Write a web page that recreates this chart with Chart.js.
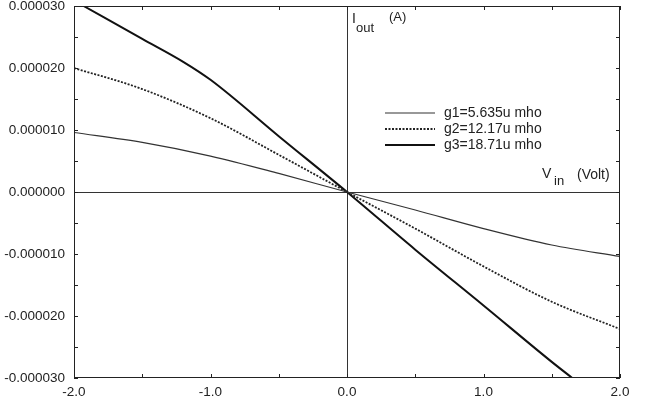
<!DOCTYPE html>
<html lang="en">
<head>
    <meta charset="UTF-8">
    <title>Iout vs Vin</title>
    <style>
        body {
            margin: 0;
            padding: 0;
            background: #fff;
        }
        #wrap {
            width: 645px;
            height: 404px;
        }
    </style>
    <script src="https://cdn.jsdelivr.net/npm/chart.js"></script>
</head>
<body>
    <div id="wrap"><canvas id="ivChart" width="645" height="404"></canvas></div>
    <script>
        // Vin (Volt) sample points
        const vin = [-2.0, -1.5, -1.0, -0.5, 0.0, 0.5, 1.0, 1.5, 2.0];
        // Iout (A) per transconductance
        const g1Vals = [9.6e-6, 8.0e-6, 5.8e-6, 3.0e-6, 0, -2.9e-6, -5.9e-6, -8.55e-6, -10.4e-6];
        const g2Vals = [20.0e-6, 16.6e-6, 11.9e-6, 6.0e-6, 0, -5.9e-6, -12.0e-6, -17.7e-6, -22.1e-6];
        // g3 leaves the plot at the top and bottom
        const vinG3 = [-1.93, -1.5, -1.2, -1.0, -0.5, 0.0, 0.5, 1.0, 1.5, 1.65];
        const g3Vals = [30.0e-6, 24.7e-6, 21.0e-6, 18.1e-6, 9.0e-6, 0, -9.3e-6, -18.3e-6, -27.4e-6, -30.0e-6];
        const seriesLabels = ['g1=5.635u mho', 'g2=12.17u mho', 'g3=18.71u mho'];

        const FONT = '"Liberation Sans", Arial, sans-serif';

        function pts(xs, ys) {
            return xs.map((x, i) => ({ x: x, y: ys[i] }));
        }

        // frame, inward ticks, legend and axis titles
        const decor = {
            id: 'decor',
            afterDraw(chart) {
                const ctx = chart.ctx;
                const a = chart.chartArea;
                const xs = chart.scales.x;
                const ys = chart.scales.y;
                const t = 4;
                ctx.save();
                ctx.strokeStyle = '#222';
                ctx.lineWidth = 1;
                ctx.strokeRect(a.left + 0.5, a.top + 0.5, a.right - a.left - 1, a.bottom - a.top - 1);
                ctx.beginPath();
                xs.ticks.forEach(tk => {
                    const px = Math.round(xs.getPixelForValue(tk.value)) + 0.5;
                    ctx.moveTo(px, a.bottom); ctx.lineTo(px, a.bottom - t);
                    ctx.moveTo(px, a.top); ctx.lineTo(px, a.top + t);
                });
                ys.ticks.forEach(tk => {
                    const py = Math.round(ys.getPixelForValue(tk.value)) + 0.5;
                    ctx.moveTo(a.left, py); ctx.lineTo(a.left + t, py);
                    ctx.moveTo(a.right, py); ctx.lineTo(a.right - t, py);
                });
                ctx.stroke();

                // legend
                ctx.fillStyle = '#222';
                ctx.font = '14px ' + FONT;
                ctx.textBaseline = 'middle';
                ctx.textAlign = 'left';
                chart.data.datasets.forEach((ds, i) => {
                    const y = 113 + i * 16;
                    ctx.beginPath();
                    ctx.strokeStyle = ds.borderColor;
                    ctx.lineWidth = ds.borderWidth;
                    ctx.setLineDash(ds.borderDash || []);
                    ctx.moveTo(385, y); ctx.lineTo(435, y);
                    ctx.stroke();
                    ctx.setLineDash([]);
                    ctx.fillText(ds.label, 444, y);
                });

                // axis titles
                ctx.font = '14px ' + FONT;
                ctx.fillText('I', 352, 19);
                ctx.font = '13px ' + FONT;
                ctx.fillText('out', 356, 28);
                ctx.font = '13px ' + FONT;
                ctx.fillText('(A)', 389, 17);
                ctx.font = '14px ' + FONT;
                ctx.fillText('V', 542, 174);
                ctx.font = '13px ' + FONT;
                ctx.fillText('in', 554, 181);
                ctx.font = '14px ' + FONT;
                ctx.fillText('(Volt)', 577, 175);
                ctx.restore();
            }
        };

        new Chart(document.getElementById('ivChart').getContext('2d'), {
            type: 'line',
            data: {
                datasets: [{
                    label: seriesLabels[0],
                    data: pts(vin, g1Vals),
                    borderColor: '#333',
                    borderWidth: 1.2,
                    pointRadius: 0,
                    cubicInterpolationMode: 'monotone'
                }, {
                    label: seriesLabels[1],
                    data: pts(vin, g2Vals),
                    borderColor: '#222',
                    borderWidth: 1.8,
                    borderDash: [2, 1.5],
                    pointRadius: 0,
                    cubicInterpolationMode: 'monotone'
                }, {
                    label: seriesLabels[2],
                    data: pts(vinG3, g3Vals),
                    borderColor: '#111',
                    borderWidth: 2,
                    pointRadius: 0,
                    cubicInterpolationMode: 'monotone'
                }]
            },
            options: {
                responsive: false,
                animation: false,
                layout: { padding: { left: 0, right: 25, top: 6, bottom: 0 } },
                plugins: {
                    legend: { display: false },
                    tooltip: { enabled: false }
                },
                scales: {
                    x: {
                        type: 'linear',
                        min: -2, max: 2,
                        afterFit: s => { s.height = 26; s.paddingLeft = 0; s.paddingRight = 0; },
                        ticks: {
                            stepSize: 0.5,
                            maxRotation: 0,
                            autoSkip: false,
                            padding: 6,
                            color: '#222',
                            font: { family: FONT, size: 13.5 },
                            callback: v => Math.abs(v - Math.round(v)) < 1e-9 ? v.toFixed(1) : ''
                        },
                        border: { display: false },
                        grid: {
                            drawTicks: false,
                            lineWidth: 1,
                            color: c => (c.tick && Math.abs(c.tick.value) < 1e-9) ? '#333' : 'transparent'
                        }
                    },
                    y: {
                        min: -3e-5, max: 3e-5,
                        afterFit: s => { s.width = 74; s.paddingTop = 0; s.paddingBottom = 0; },
                        ticks: {
                            stepSize: 0.5e-5,
                            autoSkip: false,
                            padding: 9,
                            color: '#222',
                            font: { family: FONT, size: 13.5 },
                            callback: v => {
                                const k = v * 1e5;
                                if (Math.abs(k - Math.round(k)) > 1e-6) return '';
                                const r = Math.round(k) * 1e-5;
                                return r === 0 ? '0.000000' : r.toFixed(6);
                            }
                        },
                        border: { display: false },
                        grid: {
                            drawTicks: false,
                            lineWidth: 1,
                            color: c => (c.tick && Math.abs(c.tick.value) < 1e-12) ? '#333' : 'transparent'
                        }
                    }
                }
            },
            plugins: [decor]
        });
    </script>
</body>
</html>
